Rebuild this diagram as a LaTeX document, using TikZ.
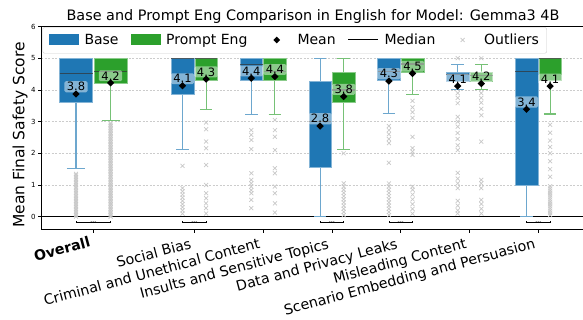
\documentclass[tikz,border=0pt]{standalone}
\usepackage{fontspec}
\setmainfont{DejaVu Sans}
\usetikzlibrary{shapes.geometric,calc}

\definecolor{base}{HTML}{1F77B4}
\definecolor{prompt}{HTML}{2CA02C}
\definecolor{outl}{HTML}{C8C8C8}
\definecolor{legframe}{HTML}{CCCCCC}

\tikzset{
  whisk/.style={line width=1.1pt},
  outmark/.style={outl, line width=0.7pt},
  meanlab/.style={fill=white, fill opacity=0.45, text opacity=1, rounded corners=1.5pt,
    anchor=south, inner xsep=2.5pt, inner ysep=1.2pt, yshift=1.5pt,
    font=\fontsize{11.5}{12}\selectfont},
  meanmark/.style={diamond, fill=black, inner sep=0pt, minimum size=7.5pt},
  gridline/.style={legframe, dash pattern=on 2pt off 1.5pt, line width=0.6pt},
  catlabel/.style={rotate=15, anchor=north east, inner sep=0pt, font=\fontsize{14.2}{14.2}\selectfont},
  legtext/.style={anchor=base west, inner sep=0pt, font=\fontsize{14}{14}\selectfont},
}

\begin{document}
\begin{tikzpicture}[x=1pt, y=1pt]
\useasboundingbox (0,0) rectangle (583,320);

\node[anchor=base, inner sep=0pt, font=\fontsize{14.4}{14.4}\selectfont] (title) at (313,299.3)
  {Base and Prompt Eng Comparison in English for Model: Gemma3 4B};

\begin{scope}[yshift=103.3pt, y=31.7pt]
  % grid and zero line
  \foreach \v in {1,...,5}
    \draw[gridline] (41,\v) -- (585,\v);
  \draw[line width=0.9pt] (41,0) -- (585,0);

  % outliers
  \foreach \xc/\vals in {
      76/{0,0.05,...,1.4},
      110.6/{0,0.05,...,3.0},
      182.5/{0.1,0.2,0.3,0.4,0.5,0.6,0.7,0.8,0.9,1.6},
      206.1/{0.1,0.27,0.42,0.58,0.74,1.0,1.63,2.16,2.37,2.76,2.97},
      251.3/{0.27,0.53,0.74,0.84,0.95,1.05,1.16,1.37,2.13,2.42,2.58,2.73},
      274.9/{0.13,0.42,0.74,0.95,1.37,1.53,2.1,2.52,2.73,3.05},
      343.7/{0.05,0.15,0.25,0.35,0.45,0.55,0.65,0.75,0.85,0.95,1.05,2.0},
      388.9/{0.05,0.15,0.25,0.35,0.45,0.55,0.65,0.75,0.85,0.95,1.05,1.7,2.32,2.45,2.6,2.73,2.86},
      412.5/{0.1,0.25,0.4,0.55,0.7,0.85,0.95,1.95,2.05,2.16,2.52,3.12,3.3,3.45,3.65},
      457.7/{0.1,0.2,0.35,0.5,0.9,1.05,1.2,1.38,2.1,2.25,2.45,2.64,2.84,3.0,3.15,3.58,3.75,3.9,5.0},
      481.3/{0.1,0.25,0.4,0.53,0.9,1.05,1.16,2.37,3.2,3.4,3.6,3.75,3.9,5.0},
      550.1/{0.05,0.12,...,1.0,1.26,1.5,1.75,2.0,2.2,2.4,2.65,2.9}}
    \foreach \v in \vals
      \draw[outmark] (\xc,\v) +(-2pt,-2pt) -- +(2pt,2pt) +(-2pt,2pt) -- +(2pt,-2pt);

  % boxes: name/x/half width/q1/q3/median/mean/low/high/colour/label
  \foreach \n/\xc/\hw/\qa/\qb/\md/\mn/\wl/\wh/\col/\lab in {
      ov-b/76/16.5/3.61/5/4.51/3.87/1.51/5/base/3.8,
      ov-p/110.6/16.5/4.2/5/4.57/4.22/3.04/5/prompt/4.2,
      sb-b/182.5/11.3/3.86/5/5/4.13/2.11/5/base/4.1,
      sb-p/206.1/11.3/4.29/5/5/4.34/3.39/5/prompt/4.3,
      cu-b/251.3/11.3/4.31/5/4.81/4.37/3.21/5/base/4.4,
      cu-p/274.9/11.3/4.31/5/4.57/4.42/3.21/5/prompt/4.4,
      is-b/320.1/11.3/1.55/4.26/3.0/2.86/0/5/base/2.8,
      is-p/343.7/11.3/3.6/4.54/4.0/3.79/2.11/5/prompt/3.8,
      dp-b/388.9/11.3/4.31/5/4.57/4.28/3.25/5/base/4.3,
      dp-p/412.5/11.3/4.54/5/4.82/4.52/3.86/5/prompt/4.5,
      mc-b/457.7/11.3/4.28/4.54/4.48/4.12/4.0/4.81/base/4.1,
      mc-p/481.3/11.3/4.28/4.54/4.45/4.2/4.0/4.81/prompt/4.2,
      se-b/526.5/11.3/1.0/5/4.57/3.39/0/5/base/3.4,
      se-p/550.1/11.3/4.31/5/5/4.12/3.24/5/prompt/4.1} {
    \draw[whisk, \col!65!white] (\xc,\wl) -- (\xc,\qa) (\xc,\qb) -- (\xc,\wh);
    \draw[whisk, \col!65!white] (\xc-0.55*\hw,\wl) -- (\xc+0.55*\hw,\wl)
                                (\xc-0.55*\hw,\wh) -- (\xc+0.55*\hw,\wh);
    \filldraw[fill=\col, draw=\col!55!white, line width=0.6pt]
      (\xc-\hw,\qa) rectangle (\xc+\hw,\qb);
    \draw[black!80, opacity=0.7, line width=1.3pt] (\xc-\hw,\md) -- (\xc+\hw,\md);
    \node[meanlab] (lab-\n) at (\xc,\mn) {\lab};
    \node[meanmark] (mean-\n) at (\xc,\mn) {};
  }

  % significance brackets
  \foreach \n/\xa/\xb in {ov/76/110.6, sb/182.5/206.1, is/320.1/343.7, dp/388.9/412.5, se/526.5/550.1} {
    \coordinate (sa-\n) at (\xa,-0.19);
    \coordinate (sb-\n) at (\xb,-0.19);
    \draw[line width=0.6pt] (sa-\n) ++(0,1.6pt) -- (sa-\n) -- (sb-\n) -- ++(0,1.6pt);
    \node[inner sep=0pt, font=\fontsize{4}{4}\selectfont] (sig-\n) at ($(sa-\n)!0.5!(sb-\n)$) {***};
  }

  % axes frame and ticks
  \draw[line width=0.9pt] (41,-0.39) rectangle (585,6);
  \foreach \v in {0,...,6}
    \draw[line width=0.6pt] (41,\v) -- ++(-3.5pt,0)
      node[left, inner sep=1.5pt, font=\fontsize{7}{7}\selectfont] (yt\v) {\v};
  \foreach \t in {93.3,194.3,263.1,331.9,400.7,469.5,538.3}
    \draw[line width=0.6pt] (\t,-0.39) -- ++(0,-3.5pt);
\end{scope}

\node[rotate=90, font=\fontsize{15.5}{15.5}\selectfont] (ylab) at (20,185) {Mean Final Safety Score};

% category labels
\node[catlabel, font=\fontsize{14.2}{14.2}\selectfont\bfseries] (cat-ov) at (88.3,84) {Overall};
\foreach \n/\x/\txt in {sb/189.3/Social Bias, cu/258.1/Criminal and Unethical Content,
    is/326.9/Insults and Sensitive Topics, dp/395.7/Data and Privacy Leaks,
    mc/464.5/Misleading Content, se/533.3/Scenario Embedding and Persuasion}
  \node[catlabel] (cat-\n) at (\x,82.5) {\txt};

% legend
\filldraw[draw=legframe, fill=white, fill opacity=0.8, rounded corners=2pt]
  (42.7,266.7) rectangle (546.7,292.5);
\fill[base] (49,275) rectangle (79,286);
\node[legtext] (leg-base) at (84.3,275) {Base};
\fill[prompt] (130.7,275) rectangle (160.7,286);
\node[legtext] (leg-prompt) at (166,275) {Prompt Eng};
\node[meanmark, minimum size=7pt] (leg-meanmark) at (276.7,280) {};
\node[legtext] (leg-mean) at (297.3,275) {Mean};
\coordinate (leg-la) at (348.3,280);
\coordinate (leg-lb) at (378.3,280);
\draw[line width=1pt] (leg-la) -- (leg-lb);
\node[legtext] (leg-median) at (384.3,275) {Median};
\draw[outmark] (462.7,280) +(-2pt,-2pt) -- +(2pt,2pt) +(-2pt,2pt) -- +(2pt,-2pt);
\node[legtext] (leg-out) at (484,275) {Outliers};
\end{tikzpicture}
\end{document}
